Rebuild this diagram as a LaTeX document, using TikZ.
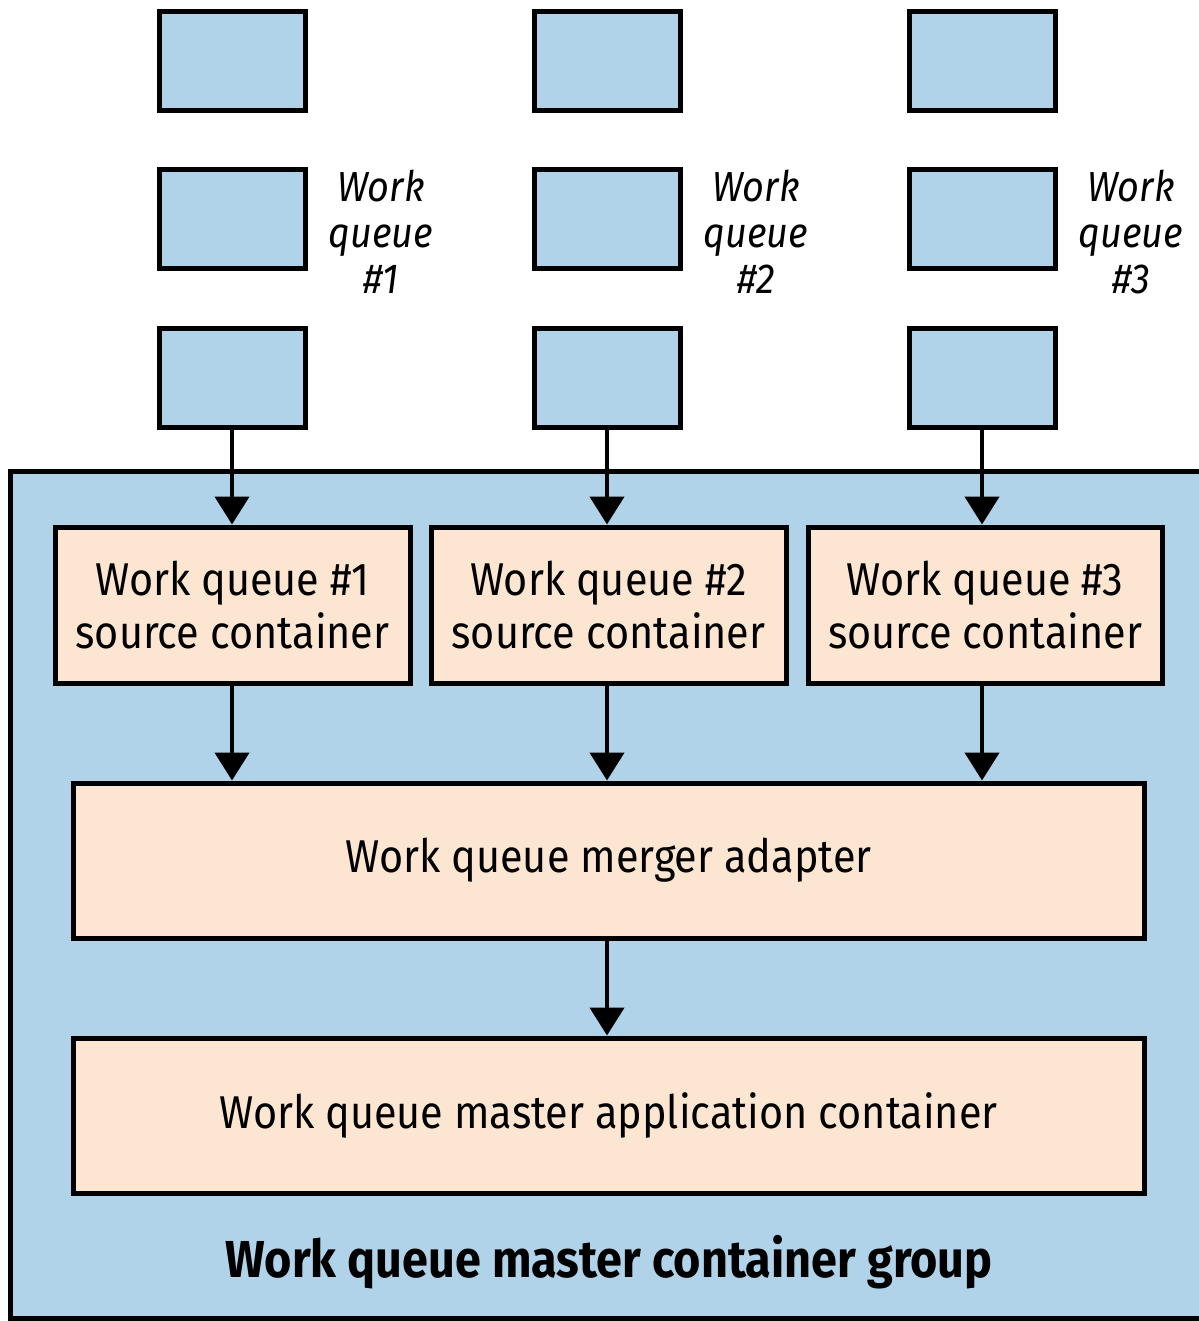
\documentclass[tikz,border=0pt]{standalone}
\usepackage{fontspec}
\setmainfont{Fira Sans}[FakeStretch=0.9]
\usetikzlibrary{arrows.meta}
\definecolor{qblue}{RGB}{176,211,233}
\definecolor{peach}{RGB}{252,230,209}
\begin{document}
\begin{tikzpicture}[x=1pt,y=-1pt,
  qbox/.style={draw=black,line width=5pt,fill=qblue,minimum width=146pt,minimum height=99pt,inner sep=0pt},
  pbox/.style={draw=black,line width=5pt,fill=peach,inner sep=0pt,align=center,font=\fontsize{46}{53}\selectfont},
  qlabel/.style={align=center,font=\itshape\fontsize{42}{46}\selectfont},
  arr/.style={line width=4.5pt,-{Triangle[width=34pt,length=28pt]}}]
\useasboundingbox (0,0) rectangle (1198,1321);
\draw[line width=5pt,fill=qblue] (10,471) rectangle (1230,1318);
\foreach \c/\x in {1/232,2/607,3/982}{
  \node[qbox] (qa\c) at (\x,61.5) {};
  \node[qbox] (qb\c) at (\x,219.5) {};
  \node[qbox] (qc\c) at (\x,377.5) {};
}
\node[qlabel] (l1) at (381,232) {Work\\queue\\\#1};
\node[qlabel] (l2) at (756,232) {Work\\queue\\\#2};
\node[qlabel] (l3) at (1131,232) {Work\\queue\\\#3};
\node[pbox,minimum width=355pt,minimum height=156pt] (s1) at (232.5,605) {Work queue \#1\\source container};
\node[pbox,minimum width=355pt,minimum height=156pt] (s2) at (608.5,605) {Work queue \#2\\source container};
\node[pbox,minimum width=354pt,minimum height=156pt] (s3) at (985,605) {Work queue \#3\\source container};
\node[pbox,minimum width=1071pt,minimum height=155pt] (m) at (608.5,860.5) {Work queue merger adapter};
\node[pbox,minimum width=1071pt,minimum height=155pt] (a) at (608.5,1115.5) {Work queue master application container};
\node[font=\bfseries\fontsize{52}{60}\selectfont] (g) at (609,1262) {Work queue master container group};
\draw[arr] (qc1.south) -- (qc1.south |- s1.north);
\draw[arr] (qc2.south) -- (qc2.south |- s2.north);
\draw[arr] (qc3.south) -- (qc3.south |- s3.north);
\draw[arr] (s1.south -| qc1.south) -- (qc1.south |- m.north);
\draw[arr] (s2.south -| qc2.south) -- (qc2.south |- m.north);
\draw[arr] (s3.south -| qc3.south) -- (qc3.south |- m.north);
\draw[arr] (m.south -| qc2.south) -- (qc2.south |- a.north);
\end{tikzpicture}
\end{document}
